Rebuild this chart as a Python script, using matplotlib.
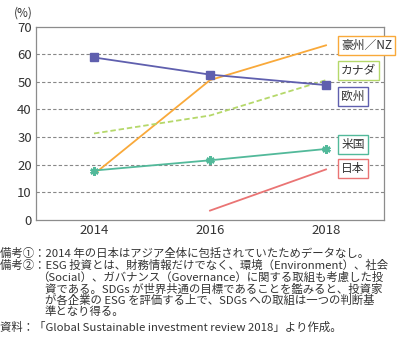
import matplotlib.pyplot as plt

plt.rcParams['font.family'] = ['Noto Sans CJK JP', 'DejaVu Sans']

years = [2014, 2016, 2018]
europe = [58.8, 52.6, 48.8]
aus_nz = [16.6, 50.6, 63.2]
canada = [31.3, 37.8, 50.6]
usa = [17.9, 21.6, 25.7]
japan_years = [2016, 2018]
japan = [3.4, 18.3]

c_eu = "#5f5fae"
c_au = "#f9a93a"
c_ca = "#b5d86a"
c_us = "#52b99a"
c_jp = "#ea7474"
c_axis = "#8c8c8c"

fig = plt.figure(figsize=(4.14, 3.49), dpi=100)
ax = fig.add_axes([36 / 414, 1 - 220 / 349, 348 / 414, 193.5 / 349])

ax.plot(years, aus_nz, color=c_au, lw=1.3, zorder=3)
ax.plot(years, canada, color=c_ca, lw=1.3, ls=(0, (3, 1.6)), zorder=3)
ax.plot(years, europe, color=c_eu, lw=1.3, marker="s", ms=5.5, zorder=4)
ax.plot(years, usa, color=c_us, lw=1.3, marker=(6, 2, 0), ms=6, mew=1.8, zorder=4)
ax.plot(japan_years, japan, color=c_jp, lw=1.3, zorder=3)

ax.set_xlim(2013, 2019)
ax.set_ylim(0, 70)
ax.set_xticks(years)
ax.set_yticks(range(0, 71, 10))
ax.tick_params(length=0, labelsize=9.5, colors="#333333", pad=3)
for s in ax.spines.values():
    s.set_color(c_axis)
    s.set_linewidth(0.9)
for y in range(10, 70, 10):
    ax.axhline(y, color="#888888", lw=0.8, ls=(0, (3, 2)), zorder=1)

fig.text(14 / 414, 1 - 13 / 349, "(%)", fontsize=8.5, color="#333333", va="center")

# series labels in coloured boxes
labels = [("豪州／NZ", 63.0, c_au), ("カナダ", 54.0, c_ca), ("欧州", 44.6, c_eu),
          ("米国", 27.2, c_us), ("日本", 18.5, c_jp)]
for txt, yv, col in labels:
    ax.text(2018.26, yv, txt, fontsize=8.5, color="#333333", ha="left", va="center",
            clip_on=False, zorder=5,
            bbox=dict(boxstyle="square,pad=0.25", fc="white", ec=col, lw=1.0, alpha=1))

notes = [
    (0, 253, "備考①：2014 年の日本はアジア全体に包括されていたためデータなし。"),
    (0, 265, "備考②：ESG 投資とは、財務情報だけでなく、環境（Environment）、社会"),
    (37, 277, "（Social）、ガバナンス（Governance）に関する取組も考慮した投"),
    (45, 289, "資である。SDGs が世界共通の目標であることを鑑みると、投資家"),
    (45, 300.5, "が各企業の ESG を評価する上で、SDGs への取組は一つの判断基"),
    (45, 312, "準となり得る。"),
    (0, 327, "資料：「Global Sustainable investment review 2018」より作成。"),
]
for x, y, t in notes:
    fig.text(x / 414, 1 - y / 349, t, fontsize=8.2, color="#333333", va="center")

fig.savefig("out.png", dpi=100)
